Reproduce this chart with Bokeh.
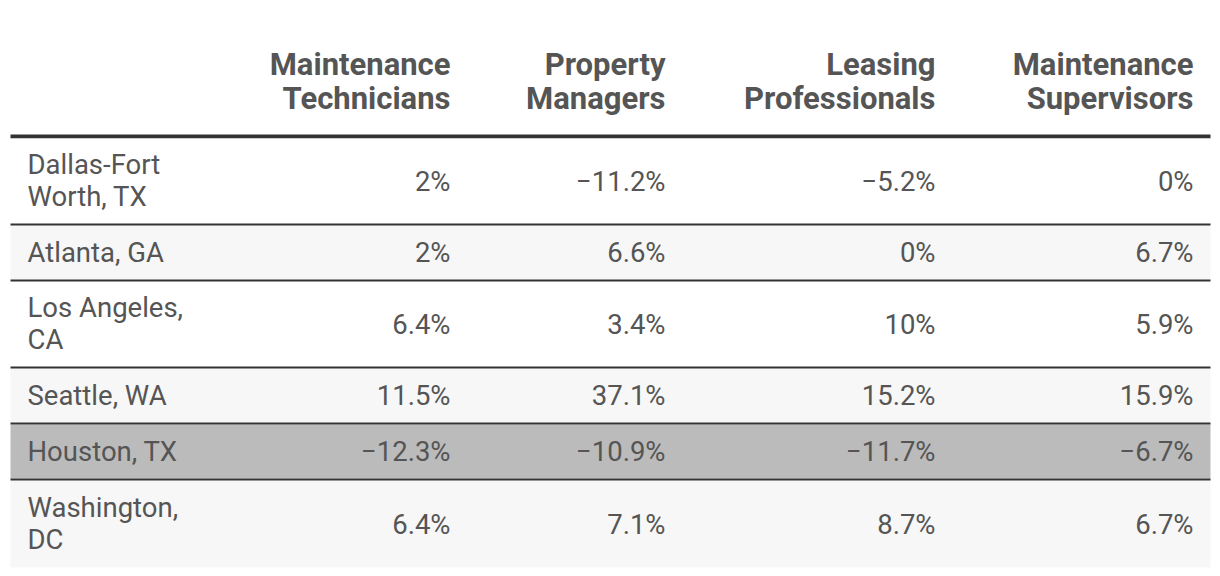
from bokeh.plotting import figure
from bokeh.models import Range1d
from bokeh.core.properties import value
from bokeh.embed import file_html
from bokeh.resources import INLINE

# ---- data ----
columns = ["Maintenance\nTechnicians", "Property\nManagers", "Leasing\nProfessionals", "Maintenance\nSupervisors"]
cities = ["Dallas-Fort\nWorth, TX", "Atlanta, GA", "Los Angeles,\nCA", "Seattle, WA", "Houston, TX", "Washington,\nDC"]
maint_tech = [2, 2, 6.4, 11.5, -12.3, 6.4]
prop_mgr = [-11.2, 6.6, 3.4, 37.1, -10.9, 7.1]
leasing = [-5.2, 0, 10, 15.2, -11.7, 8.7]
maint_sup = [0, 6.7, 5.9, 15.9, -6.7, 6.7]
highlight = "Houston, TX"

series = [maint_tech, prop_mgr, leasing, maint_sup]

# ---- layout ----
W, H = 1212, 568
FONT = "Roboto"
TXT = "#555555"
LINE = "#333333"
STRIPE = "#f7f7f7"
HIL = "#bbbbbb"

table_left, table_right = 10, 1210
label_x = 27
col_right = [450, 665, 935, 1193]
header_center = 81
header_line_top, header_line_bot = 134, 138
one_line_h, two_line_h, border = 54, 85, 2
table_bottom = 567


def fmt(v):
    s = ("%.1f" % abs(v)).rstrip("0").rstrip(".")
    return ("\u2212" if v < 0 else "") + s + "%"


p = figure(width=W, height=H, output_backend="svg", toolbar_location=None,
           x_range=Range1d(0, W), y_range=Range1d(H, 0), min_border=0)
p.axis.visible = False
p.grid.visible = False
p.outline_line_color = None
p.background_fill_color = "white"
p.border_fill_color = "white"

# header line
p.quad(left=[table_left], right=[table_right], top=[header_line_top], bottom=[header_line_bot],
       fill_color=LINE, line_color=None)

# rows
tops, bots, fills, ctrs = [], [], [], []
lt, lb = [], []
y = header_line_bot
for i, c in enumerate(cities):
    h = two_line_h if "\n" in c else one_line_h
    if i == len(cities) - 1:
        h = table_bottom - y
    top, bot = y, y + h
    if c.replace("\n", " ") == highlight:
        fill = HIL
    elif i % 2 == 1:
        fill = STRIPE
    else:
        fill = "white"
    tops.append(top); bots.append(bot); fills.append(fill); ctrs.append((top + bot) / 2)
    y = bot
    if i < len(cities) - 1:
        lt.append(y); lb.append(y + border)
        y += border

p.quad(left=[table_left] * len(tops), right=[table_right] * len(tops), top=tops, bottom=bots,
       fill_color=fills, line_color=None)
p.quad(left=[table_left] * len(lt), right=[table_right] * len(lt), top=lt, bottom=lb,
       fill_color=LINE, line_color=None)

# header text
p.text(x=col_right, y=[header_center] * len(columns), text=columns,
       text_font=value(FONT), text_font_size="31px", text_font_style="bold",
       text_color=TXT, text_align="right", text_baseline="middle", text_line_height=0.94)

# row labels
p.text(x=[label_x] * len(cities), y=ctrs, text=cities,
       text_font=value(FONT), text_font_size="27.5px", text_color=TXT,
       text_align="left", text_baseline="middle", text_line_height=0.97)

# values
for xr, vals in zip(col_right, series):
    p.text(x=[xr] * len(vals), y=ctrs, text=[fmt(v) for v in vals],
           text_font=value(FONT), text_font_size="27.5px", text_color=TXT,
           text_align="right", text_baseline="middle")

open("out.html", "w").write(file_html(p, INLINE))
